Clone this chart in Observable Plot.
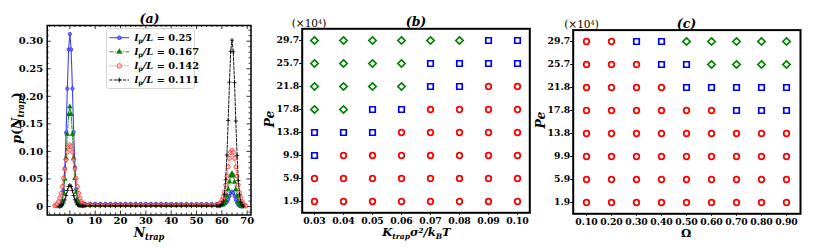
<!DOCTYPE html>
<html><head><meta charset="utf-8">
<script src="https://cdn.jsdelivr.net/npm/d3@7"></script>
<script src="https://cdn.jsdelivr.net/npm/@observablehq/plot@0.6"></script>
<style>
body{margin:0;background:#fff;}
#wrap{position:relative;width:830px;height:248px;overflow:hidden;font-family:"DejaVu Serif",serif;background:#fff;}
#wrap svg{position:absolute;top:0;}
.lbl{position:absolute;font-weight:bold;white-space:nowrap;line-height:1;transform:translate(-50%,-50%);z-index:5;color:#000;}
.it{font-style:italic;}
.sb{font-size:0.66em;vertical-align:-0.32em;}
.sp{font-size:0.62em;vertical-align:0.5em;}
</style></head><body><div id="wrap"></div>
<script>
// ---------- Panel (a) data ----------
const N = [-6,-5.5,-5,-4.5,-4,-3.5,-3,-2.5,-2,-1.5,-1,-0.5,0,0.5,1,1.5,2,2.5,3,3.5,4,4.5,5,5.5,6,
  8,10,12,14,16,18,20,22,24,26,28,30,32,34,36,38,40,42,44,46,48,50,52,54,56,
  58,58.5,59,59.5,60,60.5,61,61.5,62,62.5,63,63.5,64,64.5,65,65.5,66,66.5,67,67.5,68,68.5,69,69.5,70];
const pBlue = [null,null,null,0.0003,0.0008,0.003,0.010,0.029,0.069,0.134,0.214,0.285,0.313,0.285,0.214,0.135,0.071,0.032,0.014,0.008,0.006,0.0055,0.0052,0.0051,0.005,
  0.005,0.005,0.005,0.005,0.005,0.005,0.005,0.005,0.005,0.005,0.005,0.005,0.005,0.0049,0.0049,0.0048,0.0048,0.0047,0.0047,0.0046,0.0046,0.0045,0.0045,0.0045,0.0045,
  0.0045,0.0045,0.0045,0.0045,0.0046,0.0048,0.0055,0.0065,0.0085,0.0128,0.0191,0.0248,0.027,0.0248,0.0191,0.0124,0.0067,0.0031,0.0012,0.0004,0.0001,null,null,null,null];
const pGreen = [null,null,null,0.0003,0.0011,0.0036,0.0102,0.0245,0.050,0.088,0.131,0.167,0.181,0.167,0.131,0.088,0.051,0.026,0.012,0.0055,0.003,0.0024,0.0021,0.002,0.002,
  0.002,0.002,0.002,0.002,0.002,0.002,0.002,0.002,0.002,0.002,0.002,0.002,0.002,0.002,0.002,0.002,0.002,0.002,0.002,0.002,0.002,0.002,0.002,0.002,0.002,
  0.002,0.002,0.002,0.0022,0.0025,0.0036,0.006,0.011,0.0195,0.0315,0.045,0.0558,0.060,0.0557,0.0446,0.0308,0.0184,0.0094,0.0042,0.0016,0.0005,0.0001,null,null,null];
const pRed = [0.0012,0.0026,0.0049,0.0089,0.0152,0.0242,0.0364,0.0513,0.068,0.0846,0.0988,0.1086,0.112,0.1086,0.0988,0.0846,0.068,0.0513,0.0364,0.0242,0.0152,0.0089,0.0055,0.004,0.0033,
  0.003,0.003,0.003,0.003,0.003,0.003,0.003,0.003,0.003,0.003,0.003,0.003,0.003,0.003,0.003,0.003,0.003,0.003,0.003,0.003,0.003,0.003,0.003,0.003,0.003,
  0.0032,0.0038,0.005,0.0075,0.0116,0.0174,0.0264,0.0389,0.055,0.0721,0.0874,0.0981,0.102,0.0981,0.0874,0.0721,0.055,0.0389,0.0254,0.0154,0.0086,0.0045,0.0021,0.0009,null];
const pBlack = [null,null,null,null,0.0003,0.001,0.0027,0.0061,0.0119,0.020,0.029,0.0362,0.039,0.0362,0.029,0.020,0.0122,0.0066,0.0034,0.0018,0.0012,0.001,0.001,0.001,0.001,
  0.001,0.001,0.001,0.001,0.001,0.001,0.001,0.001,0.001,0.001,0.001,0.001,0.001,0.001,0.001,0.001,0.001,0.001,0.001,0.001,0.001,0.001,0.001,0.001,0.001,
  0.001,0.001,0.001,0.0018,0.0037,0.0091,0.0221,0.0484,0.0934,0.1562,0.2257,0.2815,0.302,0.2805,0.2247,0.1552,0.0924,0.0474,0.0211,0.0081,0.0027,0.0008,null,null,null];
const seriesNames = ["0.25","0.167","0.142","0.111"];
const xTicksA = [0,10,20,30,40,50,60,70];
const yTicksA = [0,0.05,0.10,0.15,0.20,0.25,0.30];

// ---------- Panels (b), (c) data ----------
const peRows = ["29.7","25.7","21.8","17.8","13.8","9.9","5.9","1.9"];
const kTrap = ["0.03","0.04","0.05","0.06","0.07","0.08","0.09","0.10"];
const omega = ["0.10","0.20","0.30","0.40","0.50","0.60","0.70","0.80","0.90"];
// o = red circle, s = blue square, d = green diamond (rows top to bottom)
const phaseB = [
  ["d","d","d","d","d","d","s","s"],
  ["d","d","d","d","s","s","s","s"],
  ["d","d","d","d","s","s","o","o"],
  ["d","d","s","s","o","o","o","o"],
  ["s","s","s","o","o","o","o","o"],
  ["s","o","o","o","o","o","o","o"],
  ["o","o","o","o","o","o","o","o"],
  ["o","o","o","o","o","o","o","o"]];
const phaseC = [
  ["o","o","s","s","d","d","d","d","d"],
  ["o","o","o","s","s","d","d","d","d"],
  ["o","o","o","o","s","s","s","s","s"],
  ["o","o","o","o","o","o","s","s","s"],
  ["o","o","o","o","o","o","o","o","o"],
  ["o","o","o","o","o","o","o","o","o"],
  ["o","o","o","o","o","o","o","o","o"],
  ["o","o","o","o","o","o","o","o","o"]];

const wrap = document.getElementById("wrap");
const baseStyle = {fontFamily:"'DejaVu Serif', serif", fontWeight:"bold", background:"transparent", overflow:"visible", color:"#000"};

// ---------- Panel (a) ----------
const styles = [
  {stroke:"#0000ff", line:{strokeOpacity:0.75, strokeWidth:1.1}, dot:{symbol:"circle", r:1.7, fill:"#7070ff", stroke:"#0000ff", strokeWidth:0.5}},
  {stroke:"#008000", line:{strokeWidth:0.9, strokeDasharray:"4,1.5,1,1.5"}, dot:{symbol:"triangle", r:1.9, fill:"#008000", stroke:"#008000", strokeWidth:0.3}},
  {stroke:"#ff0000", line:{strokeOpacity:0.6, strokeWidth:0.8, strokeDasharray:"1.5,1"}, dot:{symbol:"circle", r:2.0, fill:"#ffbcbc", fillOpacity:0.5, stroke:"#ff2020", strokeWidth:0.7}},
  {stroke:"#000000", line:{strokeWidth:0.9, strokeDasharray:"3,1.5"}, dot:{symbol:"plus", r:1.5, stroke:"#000", strokeWidth:0.8}}
];
const valsA = [pBlue, pGreen, pRed, pBlack];
const fwA = 250.5 - 46.7, fhA = 214.5 - 25;
const marksA = [];
valsA.forEach((vals, k) => {
  const rows = N.map((n, i) => ({N: n, p: vals[i]})).filter(d => d.p != null);
  const st = styles[k];
  marksA.push(Plot.line(rows, {x:"N", y:"p", stroke: st.stroke, ...st.line}));
  marksA.push(Plot.dot(rows, {x:"N", y:"p", ...st.dot}));
});
const minorXA = d3.range(-8, 72, 2).filter(v => v % 10 !== 0);
const minorYA = d3.range(-1, 33, 1).map(v => v/100).filter(v => Math.round(v*100) % 5 !== 0);
const tickStyle = {stroke:"#000", strokeWidth:0.8};
const plotA = Plot.plot({
  width: 262, height: 248, marginLeft: 46.7, marginRight: 262 - 250.5, marginTop: 25, marginBottom: 248 - 214.5,
  x: {domain: [-8.95, 71.5], label: null},
  y: {domain: [-0.0154, 0.3285], label: null},
  style: {...baseStyle, fontSize: "10px"},
  marks: [
    Plot.ruleX(xTicksA, {insetTop: fhA - 4, ...tickStyle}),
    Plot.ruleX(xTicksA, {insetBottom: fhA - 4, ...tickStyle}),
    Plot.ruleX(minorXA, {insetTop: fhA - 2, ...tickStyle}),
    Plot.ruleX(minorXA, {insetBottom: fhA - 2, ...tickStyle}),
    Plot.ruleY(yTicksA, {insetRight: fwA - 4, ...tickStyle}),
    Plot.ruleY(yTicksA, {insetLeft: fwA - 4, ...tickStyle}),
    Plot.ruleY(minorYA, {insetRight: fwA - 2, ...tickStyle}),
    Plot.ruleY(minorYA, {insetLeft: fwA - 2, ...tickStyle}),
    ...marksA,
    Plot.frame({stroke:"#000", strokeWidth:1.5}),
    Plot.axisX({ticks: xTicksA, tickSize: 0, tickPadding: 2, tickFormat: d => String(d)}),
    Plot.axisY({ticks: yTicksA, tickSize: 0, tickPadding: 4, tickFormat: d => d === 0 ? "0" : d.toFixed(2)})
  ]
});
plotA.style.left = "0px";
wrap.appendChild(plotA);

// legend for (a)
const leg = d3.create("svg").attr("width", 262).attr("height", 248).style("left", "0px").style("z-index", 4);
leg.append("rect").attr("x", 106.5).attr("y", 28.5).attr("width", 88).attr("height", 60).attr("rx", 2.5)
  .attr("fill", "#fff").attr("fill-opacity", 0.85).attr("stroke", "#cccccc").attr("stroke-width", 0.8);
const symMap = {circle: d3.symbolCircle, triangle: d3.symbolTriangle, plus: d3.symbolPlus};
seriesNames.forEach((name, i) => {
  const y = 37.7 + i * 14.1, st = styles[i];
  const g = leg.append("g");
  const ln = g.append("line").attr("x1", 109.5).attr("x2", 129).attr("y1", y).attr("y2", y).attr("stroke", st.stroke)
    .attr("stroke-width", st.line.strokeWidth);
  if (st.line.strokeOpacity) ln.attr("stroke-opacity", st.line.strokeOpacity);
  if (st.line.strokeDasharray) ln.attr("stroke-dasharray", st.line.strokeDasharray);
  const dt = st.dot;
  g.append("path").attr("transform", `translate(119.3,${y})`)
    .attr("d", d3.symbol(symMap[dt.symbol], Math.PI * dt.r * dt.r * 1.3)())
    .attr("fill", dt.fill || "none").attr("fill-opacity", dt.fillOpacity ?? 1)
    .attr("stroke", dt.stroke).attr("stroke-width", dt.strokeWidth);
  const t = g.append("text").attr("x", 134.5).attr("y", y + 3.4).attr("font-size", 9.8).attr("font-weight", "bold")
    .attr("font-family", "'DejaVu Serif', serif");
  t.append("tspan").attr("font-style", "italic").text("l");
  t.append("tspan").attr("font-size", 6.5).attr("dy", 2).text("p");
  t.append("tspan").attr("dy", -2).attr("font-style", "italic").text("/L");
  t.append("tspan").text(" = " + name);
});
wrap.appendChild(leg.node());

// ---------- Panels (b) & (c) ----------
function phasePlot(xs, phase, o) {
  const rows = [];
  peRows.forEach((pe, i) => xs.forEach((x, j) => rows.push({x, pe, ph: phase[i][j]})));
  return Plot.plot({
    width: o.width, height: 248, marginLeft: o.mL, marginRight: o.mR, marginTop: o.mT, marginBottom: o.mB,
    x: {type: "point", domain: xs, padding: o.padX, label: null},
    y: {type: "point", domain: peRows, padding: o.padY, label: null},
    style: {...baseStyle, fontSize: "9.3px"},
    marks: [
      Plot.dot(rows.filter(d => d.ph === "o"), {x: "x", y: "pe", symbol: "circle", r: 2.8, stroke: "#ff0000", strokeWidth: 1.8}),
      Plot.dot(rows.filter(d => d.ph === "s"), {x: "x", y: "pe", symbol: "square2", r: 3.5, stroke: "#0000ff", strokeWidth: 1.7}),
      Plot.dot(rows.filter(d => d.ph === "d"), {x: "x", y: "pe", symbol: "diamond2", r: 3.3, stroke: "#008000", strokeWidth: 1.7}),
      Plot.frame({stroke: "#000", strokeWidth: 2}),
      Plot.axisX({tickSize: 2.5, tickPadding: 2, fontSize: 9.3}),
      Plot.axisY({tickSize: 2.5, tickPadding: 0.5, fontSize: 9.3})
    ]
  });
}
const plotB = phasePlot(kTrap, phaseB, {width: 284, mL: 301.7 - 262, mR: 546 - 529.3, mT: 28.3, mB: 248 - 212.3, padX: 0.367, padY: 0.364});
plotB.style.left = "262px";
wrap.appendChild(plotB);
const plotC = phasePlot(omega, phaseC, {width: 284, mL: 572.7 - 546, mR: 830 - 800, mT: 29.6, mB: 248 - 213.3, padX: 0.41, padY: 0.364});
plotC.style.left = "546px";
wrap.appendChild(plotC);

// ---------- Text labels ----------
function label(html, x, y, size, extra = {}) {
  const d = document.createElement("div");
  d.className = "lbl";
  d.innerHTML = html;
  d.style.left = x + "px"; d.style.top = y + "px"; d.style.fontSize = size + "px";
  Object.assign(d.style, extra);
  wrap.appendChild(d);
}
const rot = {transform: "translate(-50%,-50%) rotate(-90deg)"};
label('<span class="it">(a)</span>', 149.5, 18.5, 12.5);
label('<span class="it">(b)</span>', 416, 22.3, 12.5);
label('<span class="it">(c)</span>', 686.5, 23.5, 12.5);
label('<span class="it">p</span>(<span class="it">N<span class="sb">trap</span></span>)', 18, 118, 12.5, rot);
label('<span class="it">N<span class="sb">trap</span></span>', 149, 234, 12.5);
label('<span class="it">Pe</span>', 270, 119, 12.5, rot);
label('<span class="it">Pe</span>', 541, 120, 12.5, rot);
label('<span class="it">K<span class="sb">trap</span>σ<span class="sp">2</span>/k<span class="sb">B</span>T</span>', 416.5, 233.5, 11.5);
label('Ω', 686, 233.5, 11.5);
label('(×10<span class="sp">4</span>)', 309, 22.5, 10.5, {fontWeight: "normal"});
label('(×10<span class="sp">4</span>)', 581.5, 24, 10.5, {fontWeight: "normal"});
</script>
</body></html>
